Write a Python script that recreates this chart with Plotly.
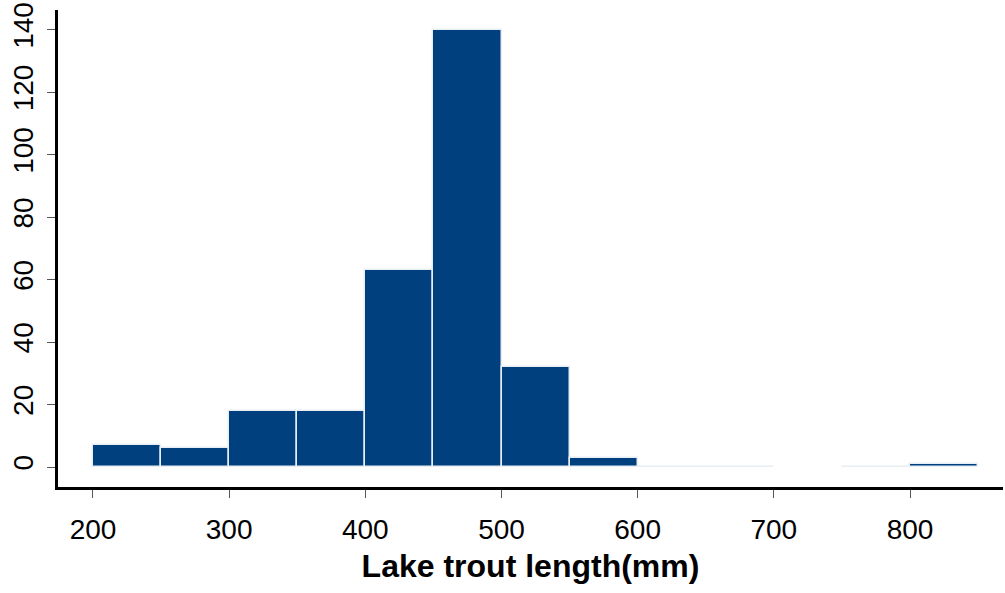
import plotly.graph_objects as go

bin_left = [200, 250, 300, 350, 400, 450, 500, 550, 600, 650, 700, 750, 800]
bin_width = 50
counts = [7, 6, 18, 18, 63, 140, 32, 3, 0, 0, None, 0, 1]
x_ticks = [200, 300, 400, 500, 600, 700, 800]
y_ticks = [0, 20, 40, 60, 80, 100, 120, 140]

centers = [b + bin_width / 2 for b in bin_left]

fig = go.Figure(go.Bar(
    x=centers, y=counts, width=[bin_width] * len(counts),
    marker=dict(color="#00407F", line=dict(color="#E8EEF4", width=1.5)),
))

fig.update_layout(
    width=1005, height=593,
    margin=dict(l=58, r=2, t=10, b=106),
    plot_bgcolor="white", paper_bgcolor="white",
    showlegend=False,
    font=dict(family="Liberation Sans, Arial", color="black"),
    bargap=0,
)
fig.update_xaxes(
    range=[174.3, 868.3], tickvals=x_ticks,
    showline=True, linecolor="black", linewidth=2.5,
    ticks="outside", ticklen=8, tickwidth=1.2, tickcolor="#555555",
    tickfont=dict(size=28), ticklabelstandoff=8,
    showgrid=False, zeroline=False,
    title=dict(text="<b>Lake trout length(mm)</b>", font=dict(size=32), standoff=11),
)
fig.update_yaxes(
    range=[-6.4, 146.3], tickvals=y_ticks, tickangle=-90,
    showline=True, linecolor="black", linewidth=2.5,
    ticks="outside", ticklen=8, tickwidth=1.2, tickcolor="#555555",
    tickfont=dict(size=28), ticklabelstandoff=3,
    showgrid=False, zeroline=False,
)

fig.write_html("out.html")
